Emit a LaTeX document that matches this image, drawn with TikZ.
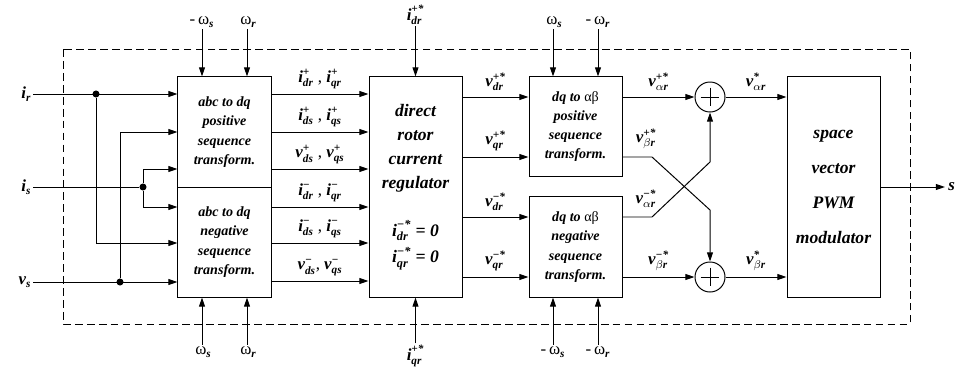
\documentclass[tikz,border=0pt]{standalone}
\usepackage{amsmath}
\usepackage{fontspec}
\setmainfont{Liberation Serif}
\usetikzlibrary{arrows.meta,calc}
\newcommand{\bi}[1]{\text{\bfseries\itshape #1}}
\newcommand{\sg}[3]{$\bi{#1}^{\bi{#2}}_{\bi{#3}}$}
\newcommand{\wf}[2]{#1\,ω$_{\bi{#2}}$}

\begin{document}
\begin{tikzpicture}[
    x=0.025cm, y=-0.025cm,
    line width=0.7pt,
    box/.style={rectangle, draw, minimum width=2.325cm, align=center, inner sep=0pt, font=\fontsize{10}{13.7}\selectfont\bfseries\itshape},
    bigbox/.style={box, minimum height=5.5cm, font=\fontsize{12.5}{17}\selectfont\bfseries\itshape},
    sum/.style={circle, draw, minimum size=0.75cm, inner sep=0pt,
        path picture={\draw[line width=0.6pt] ([yshift=-4pt]path picture bounding box.north) -- ([yshift=4pt]path picture bounding box.south)
            ([xshift=4pt]path picture bounding box.west) -- ([xshift=-4pt]path picture bounding box.east);}},
    arrow/.style={-{Triangle[length=6.5pt,width=4.2pt]}},
    sigtext/.style={font=\fontsize{12}{14}\selectfont, inner sep=1pt},
    dot/.style={circle, fill, inner sep=0pt, minimum size=5pt},
    frame/.style={dash pattern=on 5.5pt off 3pt},
]
\useasboundingbox (0,0) rectangle (960,369);

% ====== Dashed frame ======
\draw[frame] (63,49) rectangle (910,324);

% ====== Blocks ======
\node[box, minimum height=2.75cm] (abcP) at (224.5,132) {abc to dq\\positive\\sequence\\transform.};
\node[box, draw=none, minimum height=2.75cm] (abcN) at (224.5,242) {abc to dq\\negative\\sequence\\transform.};
\draw (abcN.north west) -- (abcN.south west) -- (abcN.south east) -- (abcN.north east);
\node[bigbox] (reg) at (415.5,187) {direct\\rotor\\current\\regulator\\[17pt]\sg{i}{−*}{dr} = 0\\[2pt]\sg{i}{−*}{qr} = 0};
\node[box, minimum height=2.475cm] (dqP) at (575.5,126.5) {dq to {\normalfont αβ}\\positive\\sequence\\transform.};
\node[box, minimum height=2.5cm] (dqN) at (575.5,247) {dq to {\normalfont αβ}\\negative\\sequence\\transform.};
\node[bigbox, font=\fontsize{12.5}{25}\selectfont\bfseries\itshape] (svm) at (833.5,187) {space\\vector\\PWM\\modulator};
\node[sum] (sumA) at (710,97) {};
\node[sum] (sumB) at (710,277) {};

% ====== Inputs ======
\coordinate (irIn) at (33,94);
\coordinate (isIn) at (33,187);
\coordinate (vsIn) at (33,282);
\node[sigtext, left] (ir) at (irIn) {$\bi{i}_{\bi{r}}$};
\node[sigtext, left] (is) at (isIn) {$\bi{i}_{\bi{s}}$};
\node[sigtext, left] (vs) at (vsIn) {$\bi{v}_{\bi{s}}$};
\node[dot] (d1) at (96,94) {};
\node[dot] (d2) at (143,187) {};
\node[dot] (d3) at (120,282) {};

\draw[arrow] (irIn) -- (abcP.west |- irIn);
\draw (isIn) -- (d2);
\draw[arrow] (vsIn) -- (abcN.west |- vsIn);
\draw[arrow] (d3) |- (abcP.west |- 0,132);
\draw[arrow] (d2) |- (abcP.west |- 0,169);
\draw[arrow] (d2) |- (abcN.west |- 0,207);
\draw[arrow] (d1) |- (abcN.west |- 0,243);

% ====== Speeds ======
\node[sigtext] (wA) at (202,22) {\wf{-}{s}};
\node[sigtext] (wB) at (247,22) {\wf{}{r}};
\node[sigtext] (wC) at (202,352) {\wf{}{s}};
\node[sigtext] (wD) at (247,352) {\wf{}{r}};
\node[sigtext] (wE) at (553,22) {\wf{}{s}};
\node[sigtext] (wF) at (598,22) {\wf{-}{r}};
\node[sigtext] (wG) at (553,352) {\wf{-}{s}};
\node[sigtext] (wH) at (598,352) {\wf{-}{r}};
\draw[arrow] (wA) -- (wA |- abcP.north);
\draw[arrow] (wB) -- (wB |- abcP.north);
\draw[arrow] (wC) -- (wC |- abcN.south);
\draw[arrow] (wD) -- (wD |- abcN.south);
\draw[arrow] (wE) -- (wE |- dqP.north);
\draw[arrow] (wF) -- (wF |- dqP.north);
\draw[arrow] (wG) -- (wG |- dqN.south);
\draw[arrow] (wH) -- (wH |- dqN.south);

% ====== References ======
\node[sigtext] (idr) at (415.5,15) {\sg{i}{+*}{dr}};
\node[sigtext] (iqr) at (415.5,356) {\sg{i}{+*}{qr}};
\draw[arrow] (idr) -- (reg.north);
\draw[arrow] (iqr) -- (reg.south);

% ====== dq components ======
\foreach \y/\t in {94/{\sg{i}{+}{dr} , \sg{i}{+}{qr}},
                   132/{\sg{i}{+}{ds} , \sg{i}{+}{qs}},
                   169/{\sg{v}{+}{ds} , \sg{v}{+}{qs}},
                   207/{\sg{i}{−}{dr} , \sg{i}{−}{qr}},
                   243/{\sg{i}{−}{ds} , \sg{i}{−}{qs}},
                   281/{\sg{v}{−}{ds}, \sg{v}{−}{qs}}}
  \draw[arrow] (abcP.east |- 0,\y) -- node[sigtext, above=2pt] {\t} (reg.west |- 0,\y);

% ====== Voltage references ======
\draw[arrow] (reg.east |- 0,97) -- node[sigtext, above=3pt] {\sg{v}{+*}{dr}} (dqP.west |- 0,97);
\draw[arrow] (reg.east |- 0,157) -- node[sigtext, above=3pt] {\sg{v}{+*}{qr}} (dqP.west |- 0,157);
\draw[arrow] (reg.east |- 0,217) -- node[sigtext, above=3pt] {\sg{v}{−*}{dr}} (dqN.west |- 0,217);
\draw[arrow] (reg.east |- 0,277) -- node[sigtext, above=3pt] {\sg{v}{−*}{qr}} (dqN.west |- 0,277);

% ====== alpha-beta sums ======
\coordinate (bA) at (652,157);
\coordinate (bB) at (710,210);
\coordinate (aA) at (652,217);
\coordinate (aB) at (710,162);
\draw[arrow] (dqP.east |- sumA) -- node[sigtext, above=3pt] {\sg{v}{+*}{$\alpha$r}} (sumA);
\draw[arrow] (dqP.east |- bA) -- (bA) -- (bB) -- (sumB);
\draw[arrow] (dqN.east |- aA) -- (aA) -- (aB) -- (sumA);
\draw[arrow] (dqN.east |- sumB) -- node[sigtext, above=3pt] {\sg{v}{−*}{$\beta$r}} (sumB);
\node[sigtext] (vbp) at (646,139) {\sg{v}{+*}{$\beta$r}};
\node[sigtext] (vam) at (646,199) {\sg{v}{−*}{$\alpha$r}};

\draw[arrow] (sumA) -- node[sigtext, above=3pt] {\sg{v}{*}{$\alpha$r}} (svm.west |- sumA);
\draw[arrow] (sumB) -- node[sigtext, above=3pt] {\sg{v}{*}{$\beta$r}} (svm.west |- sumB);

% ====== Output ======
\coordinate (sOut) at (945,187);
\draw[arrow] (svm.east |- sOut) -- (sOut);
\node[sigtext, right=1pt] (sLbl) at (sOut) {\bi{s}};

\end{tikzpicture}
\end{document}
